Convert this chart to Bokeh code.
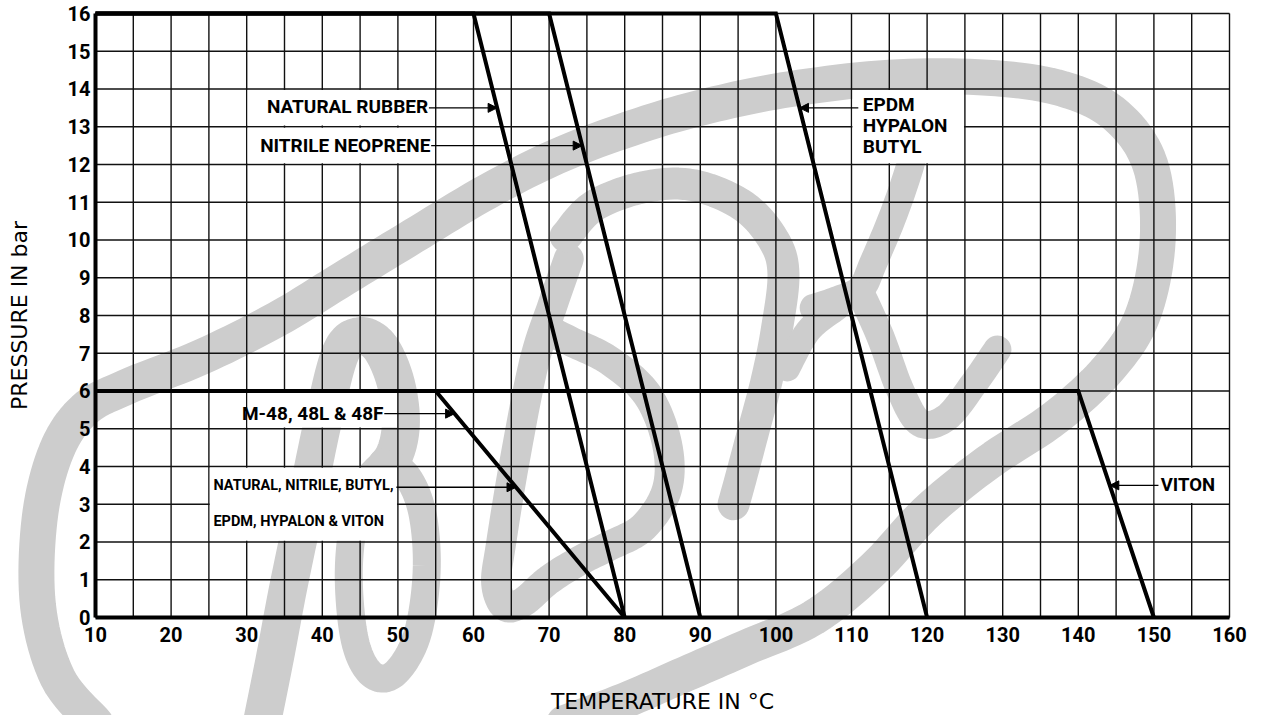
import numpy as np
from bokeh.plotting import figure
from bokeh.models import Label, Arrow, NormalHead, Range1d, FixedTicker
from bokeh.embed import file_html
from bokeh.resources import INLINE

# ---------------- data ----------------
temp_ticks = list(range(10, 161, 10))
temp_grid = list(range(10, 161, 5))
pressure_ticks = list(range(0, 17))

natural_rubber_x = [10, 60, 80]
natural_rubber_y = [16, 16, 0]
nitrile_neoprene_x = [10, 70, 90]
nitrile_neoprene_y = [16, 16, 0]
epdm_x = [10, 100, 120]
epdm_y = [16, 16, 0]
m48_x = [10, 55, 80]
m48_y = [6, 6, 0]
viton_x = [10, 140, 150]
viton_y = [6, 6, 0]

series_x = [natural_rubber_x, nitrile_neoprene_x, epdm_x, m48_x, viton_x]
series_y = [natural_rubber_y, nitrile_neoprene_y, epdm_y, m48_y, viton_y]

# labels, and the pressure level at which each arrow meets its curve
label_texts = ["NATURAL RUBBER", "NITRILE NEOPRENE", "EPDM\nHYPALON\nBUTYL",
               "M-48, 48L & 48F", "NATURAL, NITRILE, BUTYL,\nEPDM, HYPALON & VITON", "VITON"]
label_series = [0, 1, 2, 3, 3, 4]
arrow_p = [13.5, 12.5, 13.5, 5.4, 3.45, 3.5]
arrow_start_t = [54.1, 54.4, 110.9, 48.2, 49.8, 150.6]
label_t = [54.0, 54.3, 111.5, 48.1, 25.6, 150.9]
label_p = [13.54, 12.5, 13.03, 5.4, 3.02, 3.5]
label_align = ["right", "right", "left", "right", "left", "left"]
label_size = ["19px", "19px", "19px", "19px", "14.5px", "18.5px"]
label_lh = [1.0, 1.0, 0.9, 1.0, 2.1, 1.0]

# white boxes behind labels (grid cells)
box_left = [30, 30, 110, 30, 25, 150]
box_right = [55, 55, 125, 50, 50, 160]
box_bottom = [13, 12, 12, 5, 2, 3]
box_top = [14, 13, 14, 6, 4, 4]

# decorative watermark strokes (logo behind the grid), in chart units
wm_outer_x = [10, 5, 2.4, 2.6, 4.8, 8.5, 14, 24, 34, 43, 52, 62, 72, 83, 92, 102, 115, 128, 138, 145, 149.5, 150.5, 148.5, 144, 137, 128, 120, 113, 105, 96, 88, 80, 72]
wm_outer_y = [-2.8, -1.6, 0.3, 2.6, 4.4, 5.5, 6.1, 6.9, 7.9, 9.0, 10.1, 11.3, 12.3, 13.1, 13.6, 14.0, 14.3, 14.3, 14.0, 13.3, 12.0, 10.0, 8.0, 6.6, 5.3, 4.1, 2.8, 1.3, 0.0, -0.8, -1.5, -2.2, -2.8]
wm_b1_x = [32, 33.8, 35.5, 37.8, 40.2, 42.4, 44.8, 47.5, 49.6, 50.4, 49.5, 47]
wm_b1_y = [-2.8, -1, 0.8, 3, 5.3, 7.0, 7.45, 7.2, 6.3, 5.2, 4.3, 3.7]
wm_b2_x = [47, 44.5, 43.5, 44.3, 46.5, 49.5, 52.5, 53.8, 53.2, 51, 48]
wm_b2_y = [3.7, 2.8, 1.2, -0.6, -1.5, -1.5, -0.5, 1.2, 2.8, 3.8, 4.1]
wm_d1_x = [72.6, 70.5, 68, 65.4, 63.6, 63.0, 64.2, 66.5, 70, 74, 78, 82.5, 85.6, 85.6, 83, 78, 73, 70]
wm_d1_y = [9.5, 8.3, 6.75, 4.1, 1.9, 0.9, 0.3, 0.4, 1.0, 1.5, 1.9, 2.4, 3.4, 4.6, 5.9, 6.8, 7.3, 7.6]
wm_d2_x = [72.2, 75.9, 82.5, 89.1, 95.7, 99.7, 101, 100.1, 98.8, 97.1, 95.3, 94.4]
wm_d2_y = [10.1, 10.9, 11.4, 11.45, 10.9, 10, 9.1, 7.6, 6.3, 5.0, 3.65, 3.0]
wm_k1_x = [118.3, 117.8, 115.6, 112.9, 111.2, 108, 105]
wm_k1_y = [12.6, 12.0, 10.7, 9.4, 8.7, 8.4, 8.2]
wm_k2_x = [111.2, 113.8, 116.5, 119.1, 122.6, 126.2, 129.3]
wm_k2_y = [8.6, 7.45, 6.0, 5.15, 5.3, 6.2, 7.1]
wm_k3_x = [108, 104.3, 101.5]
wm_k3_y = [8.2, 7.6, 6.6]
wm_paths = [(wm_outer_x, wm_outer_y, 36), (wm_b1_x, wm_b1_y, 38), (wm_b2_x, wm_b2_y, 28),
            (wm_d1_x, wm_d1_y, 30), (wm_d2_x, wm_d2_y, 32), (wm_k1_x, wm_k1_y, 28),
            (wm_k2_x, wm_k2_y, 28), (wm_k3_x, wm_k3_y, 26)]


def smooth_path(xs, ys, n=10):
    """Catmull-Rom rounding of a decorative stroke (logo only, not data)."""
    pts = np.column_stack([xs, ys]).astype(float)
    P = np.vstack([pts[0], pts, pts[-1]])
    out = []
    for i in range(1, len(P) - 2):
        p0, p1, p2, p3 = P[i - 1], P[i], P[i + 1], P[i + 2]
        for t in np.linspace(0, 1, n, endpoint=False):
            t2, t3 = t * t, t * t * t
            out.append(0.5 * ((2 * p1) + (-p0 + p2) * t + (2 * p0 - 5 * p1 + 4 * p2 - p3) * t2
                              + (-p0 + 3 * p1 - 3 * p2 + p3) * t3))
    out.append(P[-2])
    out = np.array(out)
    return out[:, 0].tolist(), out[:, 1].tolist()


# ---------------- figure ----------------
TICK_FONT = "Roboto"
TITLE_FONT = "DejaVu Sans"

# frame = whole canvas, so the logo can run outside the grid
p = figure(x_range=Range1d(-2.566, 164.497), y_range=Range1d(-2.596, 16.344),
           frame_width=1263, frame_height=715,
           min_border_left=0, min_border_right=0, min_border_top=0, min_border_bottom=0,
           output_backend="svg", toolbar_location=None)
p.outline_line_color = None
p.background_fill_color = "white"
p.xgrid.visible = False
p.ygrid.visible = False

# watermark
wx, wy, ww = [], [], []
for xs, ys, w in wm_paths:
    sx, sy = smooth_path(xs, ys)
    wx.append(sx)
    wy.append(sy)
    ww.append(w)
p.multi_line(wx, wy, line_color="#cdcdcd", line_width=ww,
             line_join="round", line_cap="round", level="image")

# grid (cells of 5 °C by 1 bar)
p.segment(x0=temp_grid, y0=[pressure_ticks[0]] * len(temp_grid),
          x1=temp_grid, y1=[pressure_ticks[-1]] * len(temp_grid),
          line_color="#111111", line_width=1.4, level="underlay")
p.segment(x0=[temp_grid[0]] * len(pressure_ticks), y0=pressure_ticks,
          x1=[temp_grid[-1]] * len(pressure_ticks), y1=pressure_ticks,
          line_color="#111111", line_width=1.4, level="underlay")

# axes placed on the chart's own edges
p.xaxis.fixed_location = 0
p.yaxis.fixed_location = 10
p.xaxis.bounds = (10, 160)
p.yaxis.bounds = (0, 16)
p.xaxis.ticker = FixedTicker(ticks=temp_ticks)
p.yaxis.ticker = FixedTicker(ticks=pressure_ticks)
for ax in (p.xaxis, p.yaxis):
    ax.axis_line_width = 4
    ax.axis_line_color = "black"
    ax.major_tick_line_color = None
    ax.minor_tick_line_color = None
    ax.major_tick_out = 0
    ax.major_tick_in = 0
    ax.major_label_text_font = TICK_FONT
    ax.major_label_text_font_style = "bold"
    ax.major_label_text_font_size = "20px"
    ax.major_label_text_color = "black"
    ax.axis_label_text_font = TITLE_FONT
    ax.axis_label_text_font_style = "normal"
    ax.axis_label_text_font_size = "22px"
    ax.axis_label_text_color = "black"
p.xaxis.axis_label = "TEMPERATURE IN °C"
p.yaxis.axis_label = "PRESSURE IN bar"
p.xaxis.major_label_standoff = 10
p.yaxis.major_label_standoff = 5
p.xaxis.axis_label_standoff = 43
p.yaxis.axis_label_standoff = 33

# white label boxes
dx, dy = 0.12, 0.03
p.quad(left=[v + dx for v in box_left], right=[v - dx for v in box_right],
       bottom=[v + dy for v in box_bottom], top=[v - dy for v in box_top],
       fill_color="white", line_color=None)

# curves
for xs, ys in zip(series_x, series_y):
    p.line(xs, ys, line_color="black", line_width=4, line_join="miter")

# labels and arrows
for i, txt in enumerate(label_texts):
    sx = series_x[label_series[i]]
    sy = series_y[label_series[i]]
    tip = float(np.interp(arrow_p[i], [sy[2], sy[1]], [sx[2], sx[1]]))
    p.add_layout(Arrow(end=NormalHead(size=9, fill_color="black", line_color="black"),
                       x_start=arrow_start_t[i], y_start=arrow_p[i], x_end=tip, y_end=arrow_p[i],
                       line_color="black", line_width=1.4))
    p.add_layout(Label(x=label_t[i], y=label_p[i], text=txt, text_align=label_align[i],
                       text_baseline="middle", text_font=TICK_FONT, text_font_style="bold",
                       text_font_size=label_size[i], text_color="black",
                       text_line_height=label_lh[i]))

open("out.html", "w").write(file_html(p, INLINE))
